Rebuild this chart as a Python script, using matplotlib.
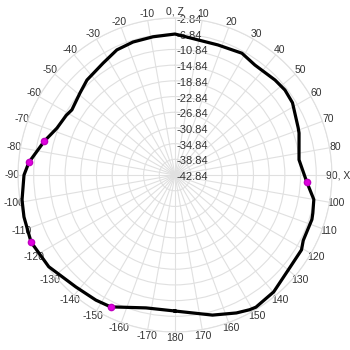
import numpy as np
import matplotlib
matplotlib.use("Agg")
import matplotlib.pyplot as plt
from matplotlib.transforms import offset_copy

plt.rcParams['font.family'] = ['Liberation Sans', 'DejaVu Sans']

# pattern: angle (deg, clockwise from Z) and level (dB)
angles = [-180, -167.7, -154, -147.7, -138.5, -126, -115, -105.5, -99.3, -90,
          -85, -75.5, -68.3, -61.2, -57.7, -49.2, -42.8, -32.7, -24.9, -17.5,
          -9, 0, 18.3, 28.8, 36, 46.5, 52.3, 58.4, 69, 71.3,
          83, 93, 100, 105.4, 108, 117, 120.6, 128.7, 139.8, 148.5,
          151, 156, 165, 180]
levels = [-8.19, -8.19, -5.46, -5.13, -4.75, -3.09, -2.38, -2.91, -3.35, -4.37,
          -5.49, -8.44, -10.48, -11.24, -11.76, -10.86, -9.84, -8.95, -7.68, -7.30,
          -7.17, -6.91, -7.93, -7.42, -8.19, -7.68, -7.42, -7.68, -9.21, -9.46,
          -10.99, -9.21, -6.91, -6.40, -6.15, -6.15, -5.38, -5.26, -3.86, -3.35,
          -3.60, -4.37, -5.89, -8.19]

# highlighted points
mark_angles = [-154, -115, -85, -75.5, 93]
mark_levels = [-5.46, -2.38, -5.49, -8.44, -9.21]

r_ticks = [-42.84 + 4 * k for k in range(11)]
theta_ticks = list(range(0, 360, 10))


def theta_label(a):
    if a == 0:
        return "0, Z"
    if a == 90:
        return "90, X"
    if a <= 180:
        return str(a)
    return str(a - 360)


fig = plt.figure(figsize=(3.5, 3.5), dpi=100)
ax = fig.add_axes([0.5 - 0.4486, 0.5 - 0.4486, 0.897, 0.897], projection='polar')
ax.set_theta_zero_location('N')
ax.set_theta_direction(-1)
ax.set_ylim(r_ticks[0], r_ticks[-1])

grid_col = '#e0e0e0'
ax.set_thetagrids(theta_ticks, [theta_label(a) for a in theta_ticks])
ax.set_yticks(r_ticks)
ax.set_yticklabels([])
ax.grid(True, color=grid_col, linewidth=0.8)
ax.spines['polar'].set_color(grid_col)
ax.spines['polar'].set_linewidth(0.8)
ax.tick_params(axis='x', length=0, pad=-2.5, labelsize=7.5, colors='#333333')

# radial labels along the 0 line
trans = offset_copy(ax.transData, fig=fig, x=2, y=-2, units='dots')
for r in r_ticks:
    ax.text(0, r, "%.2f" % r, transform=trans, ha='left', va='center',
            fontsize=8, color='#333333', zorder=2, clip_on=False)

ax.plot(np.deg2rad(angles), levels, color='black', linewidth=2.3,
        zorder=3, clip_on=False)
ax.plot(np.deg2rad(mark_angles), mark_levels, linestyle='none', marker='o',
        markersize=4.5, color='#e000e0', markeredgecolor='#c000c0',
        zorder=4, clip_on=False)

fig.savefig("out.png", dpi=100)
